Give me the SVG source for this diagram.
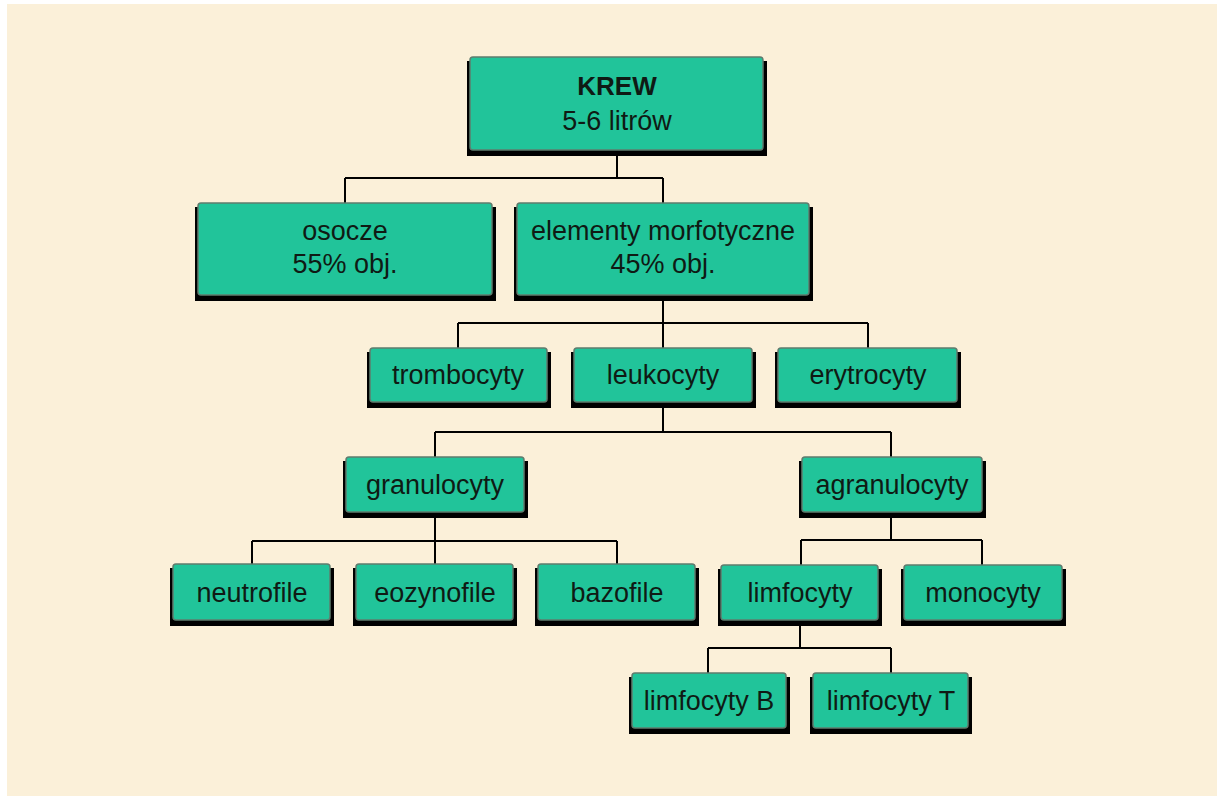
<svg xmlns="http://www.w3.org/2000/svg" width="1219" height="796" viewBox="0 0 1219 796">
<style>
.sh{fill:#000}
.bx{fill:#21c49a;stroke:#5f7c6e;stroke-width:1.5}
.t{font-family:"Liberation Sans",Arial,sans-serif;font-size:27px;fill:#0f1a14;text-anchor:middle}
.b{font-weight:bold;font-size:26px}
.c{fill:none;stroke:#000;stroke-width:2}
</style>
<rect x="0" y="0" width="1219" height="796" fill="#ffffff"/>
<rect x="7" y="4" width="1210" height="792" fill="#fbf0d9"/>
<g id="connectors">
<path class="c" d="M617 155V178M345 178H663M345 178V203M663 178V203"/>
<path class="c" d="M663 300V323M458 323H868M458 323V348M663 323V348M868 323V348"/>
<path class="c" d="M663 407V432M435 432H891M435 432V457M891 432V457"/>
<path class="c" d="M435 517V541M252 541H617M252 541V564M435 541V564M617 541V564"/>
<path class="c" d="M891 517V540M801 540H982M801 540V565M982 540V565"/>
<path class="c" d="M800 625V648M708 648H891M708 648V673M891 648V673"/>
</g>
<g id="krew">
<rect class="sh" x="467" y="61" width="300" height="95"/>
<rect class="bx" x="470" y="57" width="293" height="93" rx="3"/>
<text class="t b" x="617" y="95">KREW</text>
<text class="t" x="617" y="130">5-6 litrów</text>
</g>
<g id="osocze">
<rect class="sh" x="195" y="207" width="301" height="94"/>
<rect class="bx" x="198" y="203" width="294" height="92" rx="3"/>
<text class="t" x="345" y="240">osocze</text>
<text class="t" x="345" y="273">55% obj.</text>
</g>
<g id="elementy">
<rect class="sh" x="514" y="207" width="299" height="94"/>
<rect class="bx" x="517" y="203" width="292" height="92" rx="3"/>
<text class="t" x="663" y="240">elementy morfotyczne</text>
<text class="t" x="663" y="273">45% obj.</text>
</g>
<g id="trombocyty">
<rect class="sh" x="367" y="352" width="184" height="56"/>
<rect class="bx" x="370" y="348" width="177" height="54" rx="3"/>
<text class="t" x="458" y="384">trombocyty</text>
</g>
<g id="leukocyty">
<rect class="sh" x="571" y="352" width="185" height="56"/>
<rect class="bx" x="574" y="348" width="178" height="54" rx="3"/>
<text class="t" x="663" y="384">leukocyty</text>
</g>
<g id="erytrocyty">
<rect class="sh" x="775" y="352" width="186" height="56"/>
<rect class="bx" x="778" y="348" width="179" height="54" rx="3"/>
<text class="t" x="868" y="384">erytrocyty</text>
</g>
<g id="granulocyty">
<rect class="sh" x="343" y="461" width="185" height="57"/>
<rect class="bx" x="346" y="457" width="178" height="55" rx="3"/>
<text class="t" x="435" y="494">granulocyty</text>
</g>
<g id="agranulocyty">
<rect class="sh" x="799" y="461" width="187" height="57"/>
<rect class="bx" x="802" y="457" width="180" height="55" rx="3"/>
<text class="t" x="892" y="494">agranulocyty</text>
</g>
<g id="neutrofile">
<rect class="sh" x="170" y="568" width="164" height="58"/>
<rect class="bx" x="173" y="564" width="157" height="56" rx="3"/>
<text class="t" x="252" y="602">neutrofile</text>
</g>
<g id="eozynofile">
<rect class="sh" x="353" y="568" width="164" height="58"/>
<rect class="bx" x="356" y="564" width="157" height="56" rx="3"/>
<text class="t" x="435" y="602">eozynofile</text>
</g>
<g id="bazofile">
<rect class="sh" x="535" y="568" width="164" height="58"/>
<rect class="bx" x="538" y="564" width="157" height="56" rx="3"/>
<text class="t" x="617" y="602">bazofile</text>
</g>
<g id="limfocyty">
<rect class="sh" x="718" y="569" width="164" height="57"/>
<rect class="bx" x="721" y="565" width="157" height="55" rx="3"/>
<text class="t" x="800" y="602">limfocyty</text>
</g>
<g id="monocyty">
<rect class="sh" x="901" y="569" width="165" height="57"/>
<rect class="bx" x="904" y="565" width="158" height="55" rx="3"/>
<text class="t" x="983" y="602">monocyty</text>
</g>
<g id="limfocytyB">
<rect class="sh" x="629" y="677" width="161" height="57"/>
<rect class="bx" x="632" y="673" width="154" height="55" rx="3"/>
<text class="t" x="709" y="710">limfocyty B</text>
</g>
<g id="limfocytyT">
<rect class="sh" x="810" y="677" width="162" height="57"/>
<rect class="bx" x="813" y="673" width="155" height="55" rx="3"/>
<text class="t" x="891" y="710">limfocyty T</text>
</g>
</svg>
